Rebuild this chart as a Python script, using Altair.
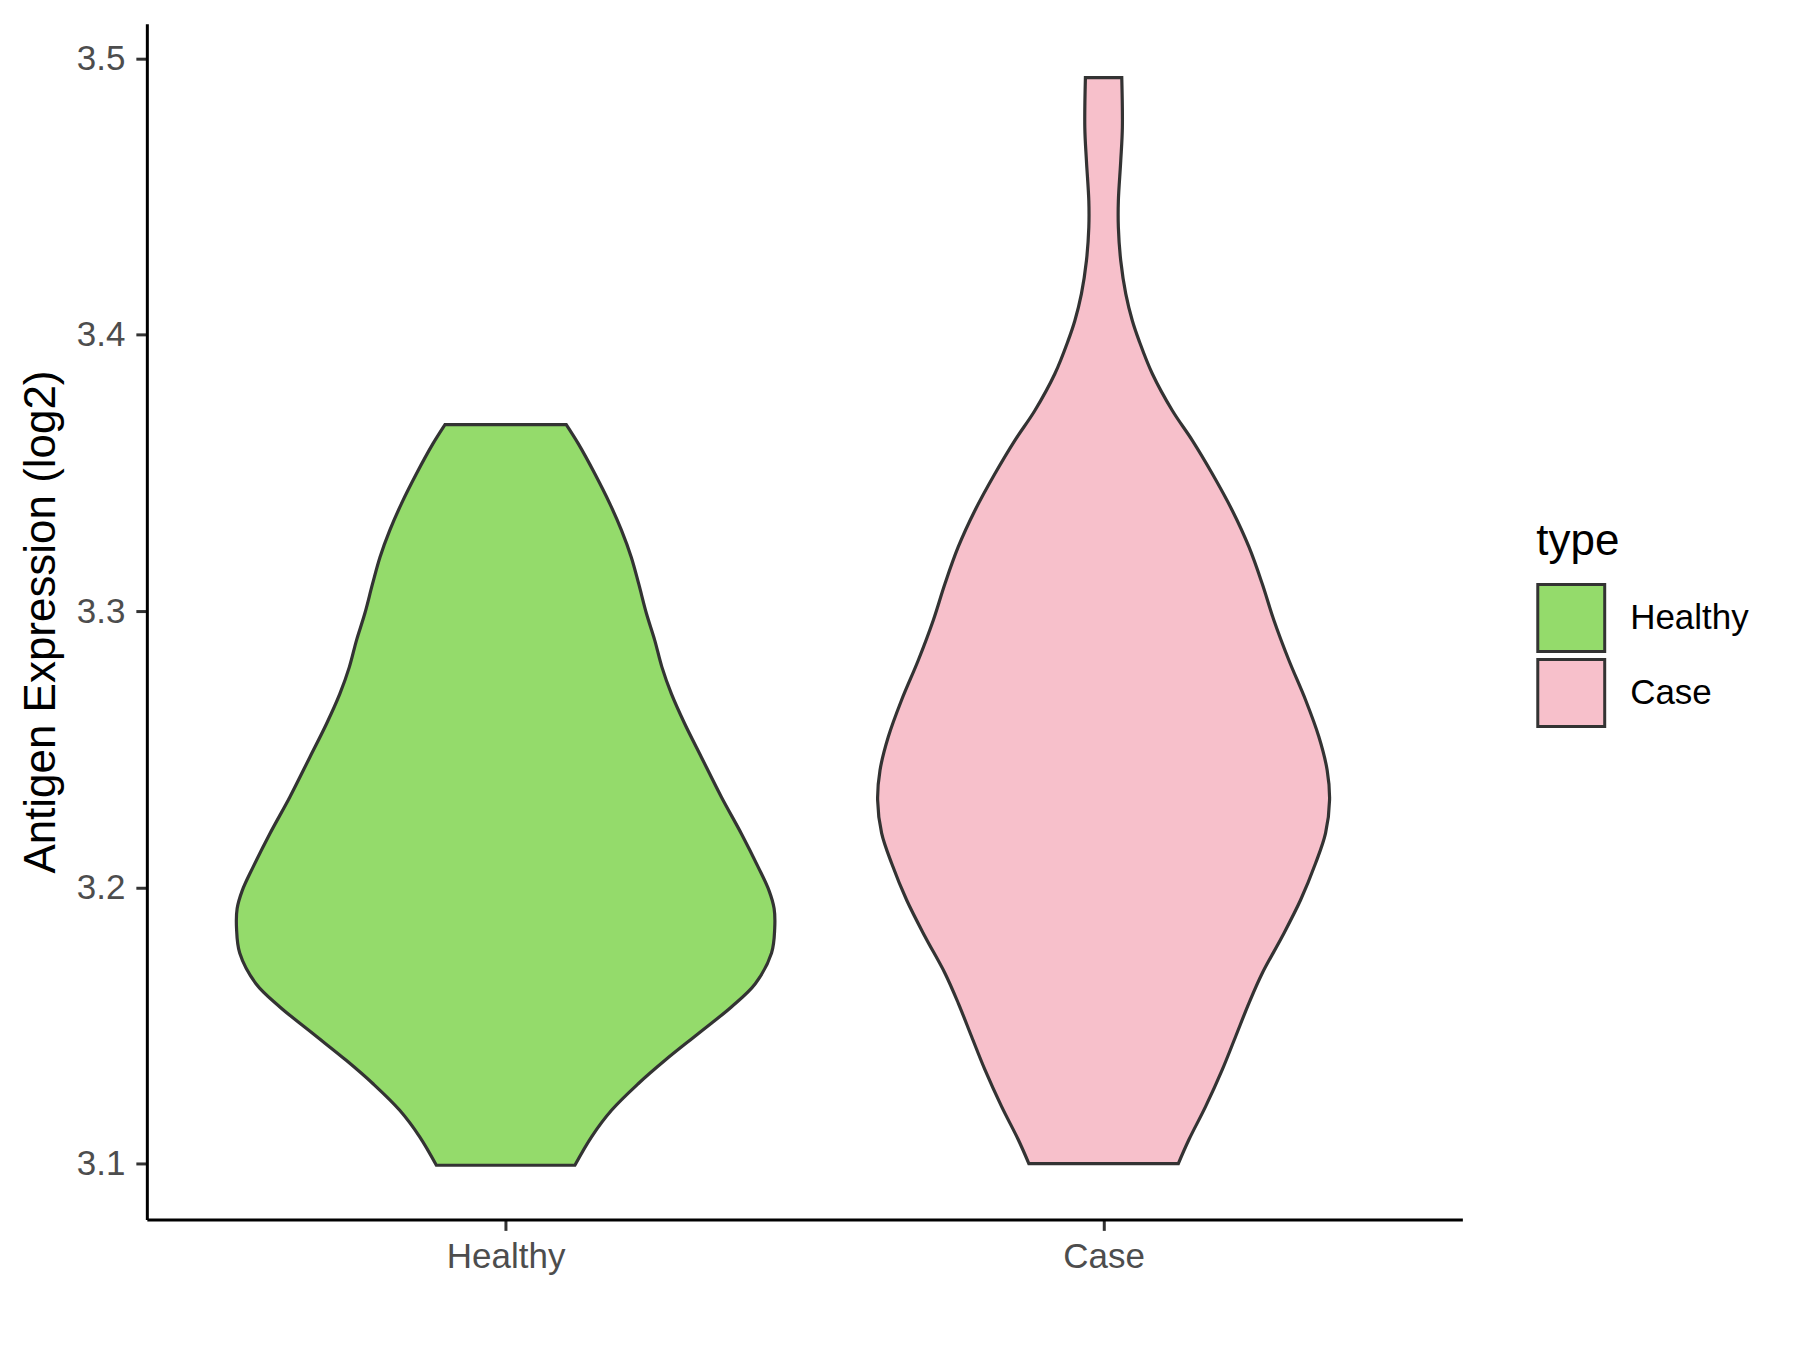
import altair as alt
import pandas as pd

# ---- data ----
groups = ["Healthy", "Case"]
group_pos = [1, 2]
fill_colors = ["#94DB6B", "#F7C0CB"]

# violin outline: expression value (log2) and half-width (in category units)
healthy_y = [3.0994, 3.1097, 3.1193, 3.1289, 3.1373, 3.1470, 3.1567, 3.1651,
             3.1762, 3.1851, 3.1923, 3.1988, 3.2074, 3.2194, 3.2327, 3.2471,
             3.2592, 3.2700, 3.2797, 3.2894, 3.2991, 3.3099, 3.3196, 3.3292,
             3.3389, 3.3497, 3.3606, 3.3675]
healthy_hw = [0.1158, 0.1437, 0.1771, 0.2217, 0.2661, 0.3219, 0.3775, 0.4175,
              0.4447, 0.4500, 0.4490, 0.4405, 0.4222, 0.3943, 0.3608, 0.3274,
              0.2995, 0.2773, 0.2614, 0.2494, 0.2355, 0.2225, 0.2100, 0.1938,
              0.1742, 0.1492, 0.1215, 0.1014]

case_y = [3.1000, 3.1087, 3.1207, 3.1340, 3.1460, 3.1581, 3.1689, 3.1822,
          3.1954, 3.2087, 3.2196, 3.2316, 3.2424, 3.2545, 3.2678, 3.2822,
          3.2967, 3.3099, 3.3232, 3.3364, 3.3497, 3.3618, 3.3726, 3.3859,
          3.3979, 3.4051, 3.4148, 3.4268, 3.4389, 3.4485, 3.4630, 3.4750,
          3.4931]
case_hw = [0.1250, 0.1428, 0.1707, 0.1985, 0.2208, 0.2431, 0.2653, 0.2987,
           0.3294, 0.3545, 0.3712, 0.3779, 0.3739, 0.3600, 0.3378, 0.3099,
           0.2848, 0.2653, 0.2431, 0.2152, 0.1818, 0.1483, 0.1149, 0.0815,
           0.0593, 0.0481, 0.0371, 0.0287, 0.0247, 0.0247, 0.0287, 0.0314,
           0.0304]

y_ticks = [3.1, 3.2, 3.3, 3.4, 3.5]
y_domain = [3.0798, 3.5126]
x_domain = [0.4, 2.6]

rows = []
for g, pos, ys, hws in [("Healthy", 1, healthy_y, healthy_hw),
                        ("Case", 2, case_y, case_hw)]:
    for v, hw in zip(ys, hws):
        rows.append({"type": g, "pos": pos, "value": v, "hw": hw})
df = pd.DataFrame(rows)

FONT = "Liberation Sans"

violins = alt.Chart(df).transform_calculate(
    lo="datum.pos - datum.hw", hi="datum.pos + datum.hw"
).mark_area(
    orient="horizontal", interpolate="catmull-rom",
    stroke="#333333", strokeWidth=3.2, opacity=1, fillOpacity=1
).encode(
    y=alt.Y("value:Q",
            scale=alt.Scale(domain=y_domain, nice=False, zero=False),
            axis=alt.Axis(values=y_ticks, format=".1f",
                          title="Antigen Expression (log2)",
                          titleFontSize=44, titleFont=FONT, titleFontWeight="normal",
                          titleColor="black", titleAngle=-90,
                          titleX=-92, titleY=598.5, titleAlign="center",
                          titleBaseline="alphabetic",
                          labelFontSize=35, labelFont=FONT, labelColor="#4D4D4D",
                          labelPadding=11, tickSize=11, tickColor="#333333",
                          tickWidth=3, domainColor="black", domainWidth=3,
                          grid=False)),
    x=alt.X("lo:Q",
            scale=alt.Scale(domain=x_domain, nice=False, zero=False),
            axis=alt.Axis(values=group_pos, title=None,
                          labelExpr="datum.value == 1 ? 'Healthy' : 'Case'",
                          labelFontSize=35, labelFont=FONT, labelColor="#4D4D4D",
                          labelPadding=9, tickSize=11, tickColor="#333333",
                          tickWidth=3, domainColor="black", domainWidth=3,
                          grid=False)),
    x2="hi:Q",
    fill=alt.Fill("type:N",
                  scale=alt.Scale(domain=groups, range=fill_colors),
                  sort=groups,
                  legend=alt.Legend(title="type", orient="none",
                                    legendX=1391, legendY=497,
                                    titleFontSize=44, titleFont=FONT,
                                    titleFontWeight="normal", titleColor="black",
                                    titlePadding=19,
                                    labelFontSize=35, labelFont=FONT,
                                    labelColor="black", labelOffset=24,
                                    symbolType="square", symbolSize=4489,
                                    symbolStrokeColor="#333333",
                                    symbolStrokeWidth=3, symbolOpacity=1,
                                    rowPadding=-8)),
    detail="type:N",
)

chart = violins.properties(
    width=1317, height=1197,
    background="white",
    padding={"left": 139, "top": 15, "right": 330, "bottom": 115},
    autosize=alt.AutoSizeParams(type="none"),
).configure_view(strokeWidth=0, stroke="transparent")

chart.save("out.html", embed_options={"renderer": "svg", "actions": False})
